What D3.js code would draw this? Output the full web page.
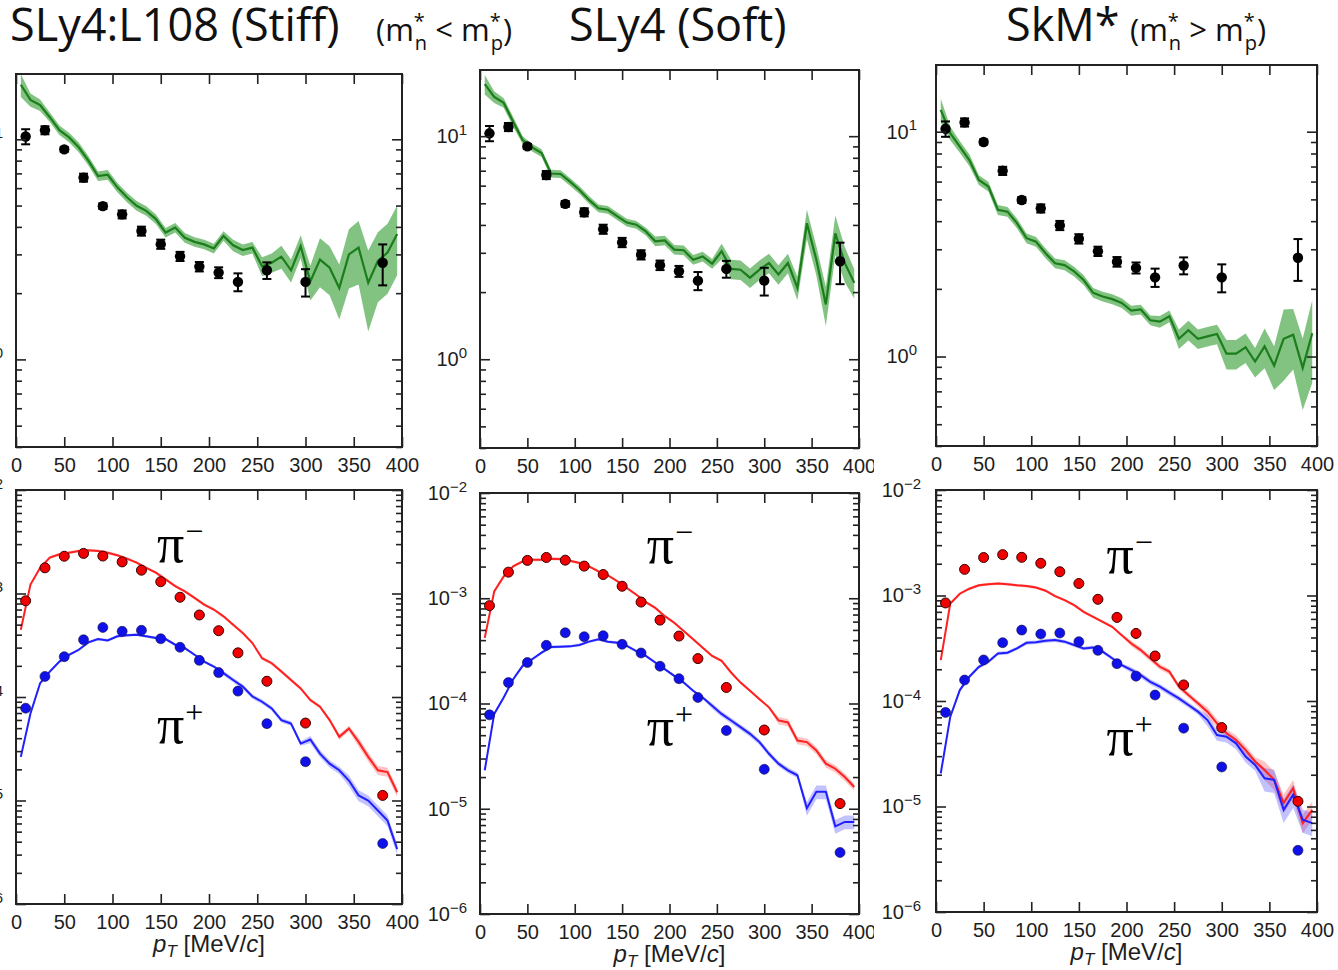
<!DOCTYPE html>
<html>
<head>
<meta charset="utf-8">
<script src="https://cdn.jsdelivr.net/npm/d3@7"></script>
<style>
body { margin: 0; background: #fff; }
</style>
</head>
<body>
<svg id="chart" width="1338" height="970"></svg>
<script>
// experimental points (same in every column)
var ptExp = [10, 30, 50, 70, 90, 110, 130, 150, 170, 190, 210, 230, 260, 300, 380];
var ratioExp = [10.3, 11.0, 9.0, 6.7, 4.97, 4.56, 3.83, 3.34, 2.94, 2.64, 2.48, 2.25, 2.54, 2.25, 2.75];
var ratioExpErr = [0.81, 0.46, 0.23, 0.28, 0.15, 0.19, 0.18, 0.16, 0.14, 0.13, 0.14, 0.21, 0.22, 0.32, 0.58];
var piMinusExp = [8.5e-4, 1.77e-3, 2.29e-3, 2.44e-3, 2.30e-3, 2.02e-3, 1.68e-3, 1.30e-3, 9.2e-4, 6.2e-4, 4.37e-4, 2.67e-4, 1.42e-4, 5.6e-5, 1.12e-5];
var piPlusExp = [7.8e-5, 1.58e-4, 2.45e-4, 3.57e-4, 4.70e-4, 4.31e-4, 4.41e-4, 3.65e-4, 3.02e-4, 2.26e-4, 1.72e-4, 1.14e-4, 5.53e-5, 2.37e-5, 3.84e-6];

// model curves
var ptModel = [5, 15, 25, 35, 45, 55, 65, 75, 85, 95, 105, 115, 125, 135, 145, 155, 165, 175, 185, 195,
               205, 215, 225, 235, 245, 255, 265, 275, 285, 295, 305, 315, 325, 335, 345, 355, 365, 375, 385, 395];

var ratioStiff = [17.7, 15.1, 14.3, 12.6, 11.0, 10.2, 9.2, 8.0, 6.8, 6.9, 6.05, 5.45, 4.99, 4.73, 4.34, 3.77, 3.97, 3.57, 3.42, 3.33,
                  3.19, 3.64, 3.30, 3.14, 3.22, 2.65, 2.75, 2.93, 2.54, 3.27, 2.26, 2.84, 2.61, 2.11, 3.00, 3.22, 2.23, 2.80, 3.06, 3.71];
var ratioStiffBand = [0.12, 0.07, 0.06, 0.05, 0.05, 0.05, 0.05, 0.05, 0.05, 0.05, 0.05, 0.05, 0.05, 0.05, 0.05, 0.05, 0.05, 0.05, 0.05, 0.05,
                      0.05, 0.05, 0.06, 0.06, 0.06, 0.10, 0.10, 0.12, 0.12, 0.12, 0.18, 0.25, 0.25, 0.28, 0.30, 0.32, 0.40, 0.35, 0.35, 0.35];
var ratioSoft = [17.1, 15.0, 14.1, 11.6, 9.6, 8.9, 8.4, 6.8, 6.77, 6.25, 5.74, 5.18, 4.75, 4.68, 4.37, 4.10, 4.01, 3.74, 3.38, 3.41,
                 3.10, 3.08, 2.79, 2.89, 2.68, 3.05, 2.54, 2.52, 2.32, 2.52, 2.70, 2.40, 2.70, 2.09, 4.07, 2.79, 1.76, 3.67, 2.70, 2.20];
var ratioSoftBand = [0.10, 0.06, 0.05, 0.05, 0.04, 0.04, 0.04, 0.04, 0.04, 0.04, 0.04, 0.04, 0.04, 0.04, 0.04, 0.04, 0.04, 0.04, 0.05, 0.05,
                     0.05, 0.05, 0.05, 0.05, 0.05, 0.08, 0.10, 0.10, 0.10, 0.10, 0.10, 0.10, 0.10, 0.12, 0.15, 0.15, 0.20, 0.20, 0.18, 0.15];
var ratioSkm = [12.5, 9.84, 8.58, 7.48, 6.10, 5.70, 4.49, 4.41, 3.92, 3.36, 3.24, 2.88, 2.60, 2.55, 2.39, 2.19, 1.92, 1.85, 1.80, 1.73,
                1.60, 1.62, 1.45, 1.43, 1.51, 1.20, 1.31, 1.20, 1.23, 1.26, 1.03, 1.03, 1.10, 0.95, 1.11, 0.91, 1.20, 1.25, 0.89, 1.27];
var ratioSkmBand = [0.12, 0.07, 0.06, 0.06, 0.05, 0.05, 0.05, 0.05, 0.05, 0.05, 0.05, 0.05, 0.05, 0.05, 0.05, 0.05, 0.05, 0.05, 0.05, 0.05,
                    0.05, 0.05, 0.05, 0.06, 0.06, 0.10, 0.10, 0.10, 0.10, 0.10, 0.15, 0.15, 0.15, 0.15, 0.20, 0.22, 0.35, 0.30, 0.35, 0.40];

var piMinusStiff = [4.47e-4, 1.22e-3, 1.77e-3, 2.22e-3, 2.39e-3, 2.48e-3, 2.58e-3, 2.62e-3, 2.58e-3, 2.48e-3,
                    2.34e-3, 2.17e-3, 1.99e-3, 1.77e-3, 1.59e-3, 1.37e-3, 1.18e-3, 1.05e-3, 9.08e-4, 7.82e-4,
                    7.0e-4, 6.02e-4, 5.0e-4, 4.15e-4, 3.32e-4, 2.37e-4, 2.12e-4, 1.76e-4, 1.46e-4, 1.21e-4,
                    9.35e-5, 8.05e-5, 5.98e-5, 4.12e-5, 4.97e-5, 3.68e-5, 2.64e-5, 1.96e-5, 1.88e-5, 1.20e-5];
var piPlusStiff = [2.64e-5, 6.93e-5, 1.36e-4, 1.76e-4, 2.20e-4, 2.56e-4, 2.86e-4, 3.37e-4, 3.63e-4, 3.52e-4,
                   3.86e-4, 3.94e-4, 4.0e-4, 3.86e-4, 3.72e-4, 3.63e-4, 3.20e-4, 2.97e-4, 2.56e-4, 2.20e-4,
                   1.97e-4, 1.70e-4, 1.46e-4, 1.26e-4, 1.01e-4, 9.0e-5, 7.76e-5, 5.98e-5, 5.55e-5, 3.55e-5,
                   3.88e-5, 2.84e-5, 2.27e-5, 1.96e-5, 1.56e-5, 1.12e-5, 1.0e-5, 8.0e-6, 6.4e-6, 3.4e-6];
var piMinusSoft = [4.2e-4, 1.16e-3, 1.61e-3, 2.01e-3, 2.24e-3, 2.32e-3, 2.32e-3, 2.37e-3, 2.36e-3, 2.27e-3,
                   2.16e-3, 2.01e-3, 1.80e-3, 1.65e-3, 1.45e-3, 1.25e-3, 1.08e-3, 9.2e-4, 8.1e-4, 6.76e-4,
                   5.85e-4, 4.88e-4, 4.07e-4, 3.39e-4, 2.83e-4, 2.54e-4, 1.97e-4, 1.58e-4, 1.32e-4, 1.10e-4,
                   9.2e-5, 6.9e-5, 6.6e-5, 4.45e-5, 4.30e-5, 3.58e-5, 2.68e-5, 2.40e-5, 2.00e-5, 1.61e-5];
var piPlusSoft = [2.32e-5, 7.96e-5, 1.14e-4, 1.70e-4, 2.28e-4, 2.63e-4, 3.04e-4, 3.44e-4, 3.47e-4, 3.49e-4,
                  3.60e-4, 3.87e-4, 4.07e-4, 3.87e-4, 3.78e-4, 3.52e-4, 3.15e-4, 2.83e-4, 2.45e-4, 2.12e-4,
                  1.83e-4, 1.58e-4, 1.32e-4, 1.14e-4, 9.5e-5, 7.96e-5, 6.9e-5, 5.96e-5, 5.15e-5, 4.30e-5,
                  3.33e-5, 2.68e-5, 2.32e-5, 2.08e-5, 1.01e-5, 1.45e-5, 1.45e-5, 6.8e-6, 7.5e-6, 7.5e-6];
var piMinusSkm = [2.44e-4, 8.4e-4, 1.04e-3, 1.16e-3, 1.25e-3, 1.28e-3, 1.30e-3, 1.28e-3, 1.25e-3, 1.23e-3,
                  1.19e-3, 1.11e-3, 9.86e-4, 9.04e-4, 8.1e-4, 7.0e-4, 6.28e-4, 5.63e-4, 5.05e-4, 4.21e-4,
                  3.51e-4, 3.04e-4, 2.53e-4, 2.11e-4, 1.90e-4, 1.37e-4, 1.14e-4, 9.5e-5, 7.93e-5, 6.15e-5,
                  4.94e-5, 4.27e-5, 3.44e-5, 2.67e-5, 2.22e-5, 1.79e-5, 1.08e-5, 1.49e-5, 6.95e-6, 9.3e-6];
var piPlusSkm = [2.06e-5, 7.1e-5, 1.27e-4, 1.70e-4, 2.11e-4, 2.36e-4, 2.82e-4, 2.87e-4, 3.15e-4, 3.56e-4,
                 3.61e-4, 3.72e-4, 3.78e-4, 3.65e-4, 3.39e-4, 3.15e-4, 3.22e-4, 2.93e-4, 2.54e-4, 2.19e-4,
                 1.97e-4, 1.76e-4, 1.52e-4, 1.37e-4, 1.20e-4, 1.06e-4, 9.16e-5, 7.93e-5, 6.6e-5, 4.76e-5,
                 4.59e-5, 3.97e-5, 2.97e-5, 2.48e-5, 1.85e-5, 1.79e-5, 9.3e-6, 1.29e-5, 7.5e-6, 6.95e-6];

// relative half widths of the model bands
var piMinusStiffBand = [.03,.03,.03,.03,.03,.03,.03,.03,.03,.03,.03,.03,.03,.03,.03,.03,.03,.03,.03,.03,
                        .03,.03,.03,.03,.03,.04,.04,.04,.04,.04,.04,.04,.04,.06,.06,.10,.10,.10,.10,.10];
var piPlusStiffBand = [.03,.03,.03,.03,.03,.03,.03,.03,.03,.03,.03,.03,.03,.03,.03,.03,.03,.03,.03,.03,
                       .03,.05,.05,.05,.05,.05,.05,.05,.05,.05,.08,.08,.08,.08,.12,.12,.12,.12,.12,.12];
var piMinusSoftBand = [.03,.03,.03,.03,.03,.03,.03,.03,.03,.03,.03,.03,.03,.03,.03,.03,.03,.03,.03,.03,
                       .03,.03,.03,.03,.03,.03,.03,.03,.03,.03,.03,.08,.08,.08,.08,.08,.08,.08,.08,.08];
var piPlusSoftBand = [.03,.03,.03,.03,.03,.03,.03,.03,.03,.03,.03,.03,.03,.03,.03,.03,.03,.03,.03,.03,
                      .03,.03,.03,.03,.06,.06,.06,.06,.06,.06,.06,.06,.06,.06,.15,.15,.15,.15,.15,.15];
var piMinusSkmBand = [.03,.03,.03,.03,.03,.03,.03,.03,.03,.03,.03,.03,.03,.03,.03,.03,.03,.03,.03,.03,
                      .06,.06,.06,.06,.06,.06,.06,.06,.10,.10,.10,.10,.10,.10,.20,.20,.20,.20,.20,.20];
var piPlusSkmBand = [.04,.04,.04,.04,.04,.04,.04,.04,.04,.04,.04,.04,.04,.04,.04,.04,.04,.04,.04,.04,
                     .06,.06,.06,.06,.06,.06,.06,.06,.12,.12,.12,.12,.12,.12,.25,.25,.25,.25,.25,.25];

var xTicks = [0, 50, 100, 150, 200, 250, 300, 350, 400];
var ratioDomain = [0.4, 19.8];
var pionDomain = [1e-6, 1e-2];

var svg = d3.select("#chart");

var panels = [
	{x0: 16, x1: 402, y0: 74, y1: 447, kind: "ratio", model: ratioStiff, band: ratioStiffBand, gap: 13},
	{x0: 480, x1: 859, y0: 70, y1: 448, kind: "ratio", model: ratioSoft, band: ratioSoftBand, gap: 13, clip: true},
	{x0: 936, x1: 1317, y0: 65, y1: 446, kind: "ratio", model: ratioSkm, band: ratioSkmBand, gap: 19},
	{x0: 16, x1: 402, y0: 490, y1: 904, kind: "pion", minus: piMinusStiff, minusBand: piMinusStiffBand,
	 plus: piPlusStiff, plusBand: piPlusStiffBand, gap: 13, labels: [[146, 2.03e-3], [146, 3.6e-5]]},
	{x0: 480, x1: 859, y0: 493, y1: 914, kind: "pion", minus: piMinusSoft, minusBand: piMinusSoftBand,
	 plus: piPlusSoft, plusBand: piPlusSoftBand, gap: 13, clip: true, labels: [[176, 2.18e-3], [176, 4.04e-5]]},
	{x0: 936, x1: 1317, y0: 490, y1: 912, kind: "pion", minus: piMinusSkm, minusBand: piMinusSkmBand,
	 plus: piPlusSkm, plusBand: piPlusSkmBand, gap: 15, labels: [[179, 1.63e-3], [179, 3.08e-5]]}
];

svg.append("clipPath").attr("id", "col2")
	.append("rect").attr("x", 418).attr("y", 0).attr("width", 456).attr("height", 970);

function logTicks(domain) {
	var major = [], minor = [];
	for (var e = -7; e <= 2; e++) {
		for (var k = 1; k <= 9; k++) {
			var v = k * Math.pow(10, e);
			if (v < domain[0] * 0.999 || v > domain[1] * 1.001) continue;
			if (k == 1) major.push(v); else minor.push(v);
		}
	}
	return {major: major, minor: minor};
}

function styleAxis(a) {
	a.select(".domain").remove();
	a.selectAll(".tick line").attr("stroke", "#222").attr("stroke-width", 1.6);
	a.selectAll(".tick text").attr("fill", "#1e1e1e")
		.attr("font-family", "'Liberation Sans', Arial, sans-serif").attr("font-size", 20);
}

function powerLabels(a) {
	a.selectAll(".tick text").text(null).each(function(d) {
		var e = Math.round(Math.log10(d));
		var t = d3.select(this);
		t.append("tspan").text("10");
		t.append("tspan").attr("dy", "-0.55em").attr("font-size", 15).text(e < 0 ? "\u2212" + (-e) : e);
	});
}

function drawPanel(p) {
	var g = svg.append("g");
	if (p.clip) g.attr("clip-path", "url(#col2)");

	var x = d3.scaleLinear().domain([0, 400]).range([p.x0, p.x1]);
	var dom = p.kind == "ratio" ? ratioDomain : pionDomain;
	var y = d3.scaleLog().domain(dom).range([p.y1, p.y0]);
	var lt = logTicks(dom);

	var plot = g.append("g");
	var area = function(vals, band) {
		return d3.area()
			.x(function(d, i) { return x(ptModel[i]); })
			.y0(function(d, i) { return y(vals[i] * (1 - band[i])); })
			.y1(function(d, i) { return y(vals[i] * (1 + band[i])); })(vals);
	};
	var line = function(vals) {
		return d3.line().x(function(d, i) { return x(ptModel[i]); }).y(function(d) { return y(d); })(vals);
	};

	if (p.kind == "ratio") {
		plot.append("path").attr("d", area(p.model, p.band)).attr("fill", "#74bd74").attr("opacity", 0.9);
		plot.append("path").attr("d", line(p.model)).attr("fill", "none").attr("stroke", "#1b7d1b").attr("stroke-width", 2.2);

		var eb = plot.selectAll("g.err").data(ratioExp).enter().append("g").attr("class", "err");
		eb.append("line")
			.attr("x1", function(d, i) { return x(ptExp[i]); })
			.attr("x2", function(d, i) { return x(ptExp[i]); })
			.attr("y1", function(d, i) { return y(d - ratioExpErr[i]); })
			.attr("y2", function(d, i) { return y(d + ratioExpErr[i]); })
			.attr("stroke", "#000").attr("stroke-width", 2);
		[-1, 1].forEach(function(s) {
			eb.append("line")
				.attr("x1", function(d, i) { return x(ptExp[i]) - 4.5; })
				.attr("x2", function(d, i) { return x(ptExp[i]) + 4.5; })
				.attr("y1", function(d, i) { return y(d + s * ratioExpErr[i]); })
				.attr("y2", function(d, i) { return y(d + s * ratioExpErr[i]); })
				.attr("stroke", "#000").attr("stroke-width", 2);
		});
		plot.selectAll("circle.exp").data(ratioExp).enter().append("circle")
			.attr("cx", function(d, i) { return x(ptExp[i]); })
			.attr("cy", function(d) { return y(d); })
			.attr("r", 5.2).attr("fill", "#000");
	} else {
		plot.append("path").attr("d", area(p.minus, p.minusBand)).attr("fill", "#ff5050").attr("opacity", 0.35);
		plot.append("path").attr("d", area(p.plus, p.plusBand)).attr("fill", "#5050ff").attr("opacity", 0.35);
		plot.append("path").attr("d", line(p.minus)).attr("fill", "none").attr("stroke", "#ff2020").attr("stroke-width", 2);
		plot.append("path").attr("d", line(p.plus)).attr("fill", "none").attr("stroke", "#2020ff").attr("stroke-width", 2);

		plot.selectAll("circle.pim").data(piMinusExp).enter().append("circle")
			.attr("cx", function(d, i) { return x(ptExp[i]); })
			.attr("cy", function(d) { return y(d); })
			.attr("r", 5).attr("fill", "#f00000").attr("stroke", "#3a0000").attr("stroke-width", 1);
		plot.selectAll("circle.pip").data(piPlusExp).enter().append("circle")
			.attr("cx", function(d, i) { return x(ptExp[i]); })
			.attr("cy", function(d) { return y(d); })
			.attr("r", 5).attr("fill", "#1010e8").attr("stroke", "#101040").attr("stroke-width", 0.6);

		// pi labels
		["\u2212", "+"].forEach(function(sign, k) {
			var t = g.append("text")
				.attr("x", x(p.labels[k][0])).attr("y", y(p.labels[k][1]))
				.attr("font-family", "'Liberation Serif', 'Times New Roman', serif")
				.attr("font-size", 54).attr("fill", "#000");
			t.append("tspan").text("\u03c0");
			t.append("tspan").attr("font-size", 32).attr("dx", 1).attr("dy", "-0.62em").text(sign);
		});

		// x axis title
		var tt = g.append("text").attr("x", x(200)).attr("y", p.y1 + 48)
			.attr("text-anchor", "middle").attr("fill", "#1e1e1e")
			.attr("font-family", "'Liberation Sans', Arial, sans-serif").attr("font-size", 24);
		tt.append("tspan").attr("font-style", "italic").text("p");
		tt.append("tspan").attr("font-style", "italic").attr("font-size", 17).attr("dy", 5).text("T");
		tt.append("tspan").attr("dy", -5).text(" [MeV/");
		tt.append("tspan").attr("font-style", "italic").text("c");
		tt.append("tspan").text("]");
	}

	// frame
	g.append("rect").attr("x", p.x0).attr("y", p.y0)
		.attr("width", p.x1 - p.x0).attr("height", p.y1 - p.y0)
		.attr("fill", "none").attr("stroke", "#222").attr("stroke-width", 2);

	// x axes
	g.append("g").attr("transform", "translate(0," + p.y1 + ")")
		.call(d3.axisBottom(x).tickValues(xTicks).tickSizeInner(-10).tickSizeOuter(0).tickPadding(11))
		.call(styleAxis);
	g.append("g").attr("transform", "translate(0," + p.y0 + ")")
		.call(d3.axisTop(x).tickValues(xTicks).tickSizeInner(-10).tickSizeOuter(0).tickFormat(""))
		.call(styleAxis);

	// y axes, major and minor
	g.append("g").attr("transform", "translate(" + p.x0 + ",0)")
		.call(d3.axisLeft(y).tickValues(lt.major).tickSizeInner(-10).tickSizeOuter(0).tickPadding(p.gap))
		.call(styleAxis).call(powerLabels);
	g.append("g").attr("transform", "translate(" + p.x0 + ",0)")
		.call(d3.axisLeft(y).tickValues(lt.minor).tickSizeInner(-6).tickSizeOuter(0).tickFormat(""))
		.call(styleAxis);
	g.append("g").attr("transform", "translate(" + p.x1 + ",0)")
		.call(d3.axisRight(y).tickValues(lt.major).tickSizeInner(-10).tickSizeOuter(0).tickFormat(""))
		.call(styleAxis);
	g.append("g").attr("transform", "translate(" + p.x1 + ",0)")
		.call(d3.axisRight(y).tickValues(lt.minor).tickSizeInner(-6).tickSizeOuter(0).tickFormat(""))
		.call(styleAxis);
}

panels.forEach(drawPanel);

// column titles
var titleFont = "'Open Sans', 'Noto Sans', sans-serif";
[["SLy4:L108 (Stiff)", 10], ["SLy4 (Soft)", 569], ["SkM*", 1006]].forEach(function(t) {
	svg.append("text").attr("x", t[1]).attr("y", 41)
		.attr("font-family", titleFont).attr("font-size", 45).attr("fill", "#111").text(t[0]);
});

function massLabel(xpos, rel) {
	var t = svg.append("text").attr("x", xpos).attr("y", 41)
		.attr("font-family", titleFont).attr("font-size", 31).attr("fill", "#111");
	t.append("tspan").text("(m");
	t.append("tspan").attr("font-size", 20).attr("dy", -13).text("*");
	t.append("tspan").attr("font-size", 20).attr("dx", -10).attr("dy", 22).text("n");
	t.append("tspan").attr("dy", -9).text(" " + rel + " m");
	t.append("tspan").attr("font-size", 20).attr("dy", -13).text("*");
	t.append("tspan").attr("font-size", 20).attr("dx", -10).attr("dy", 22).text("p");
	t.append("tspan").attr("dy", -9).text(")");
}
massLabel(376, "<");
massLabel(1130, ">");
</script>
</body>
</html>
